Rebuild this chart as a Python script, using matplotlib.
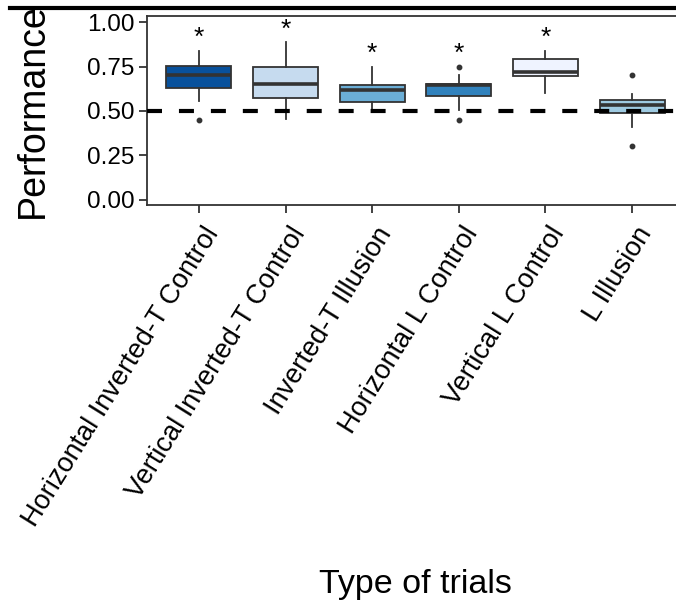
import matplotlib.pyplot as plt
import matplotlib.transforms as mtransforms
from matplotlib.lines import Line2D

plt.rcParams['font.family'] = ['Liberation Sans', 'DejaVu Sans']
plt.rcParams['lines.scale_dashes'] = False

# box statistics
trial_types = ['Horizontal Inverted-T Control', 'Vertical Inverted-T Control',
               'Inverted-T Illusion', 'Horizontal L Control',
               'Vertical L Control', 'L Illusion']
q1 = [0.630, 0.575, 0.550, 0.585, 0.697, 0.490]
median = [0.700, 0.650, 0.620, 0.645, 0.717, 0.535]
q3 = [0.755, 0.750, 0.646, 0.652, 0.790, 0.562]
whisk_low = [0.555, 0.455, 0.500, 0.505, 0.600, 0.410]
whisk_high = [0.840, 0.890, 0.750, 0.700, 0.840, 0.595]
outliers = [[0.45], [], [], [0.45, 0.75], [], [0.30, 0.70]]
significant = [True, True, True, True, True, False]
chance = 0.5

box_colors = ['#08519C', '#C6DBEF', '#6BAED6', '#3182BD', '#EFF3FF', '#9ECAE1']
edge = '#333333'

fig = plt.figure(figsize=(6.76, 6.09), dpi=100)
ax = fig.add_axes([147 / 676, 404 / 609, 537 / 676, 189 / 609])

stats = []
for i, name in enumerate(trial_types):
    stats.append(dict(label=name, q1=q1[i], med=median[i], q3=q3[i],
                      whislo=whisk_low[i], whishi=whisk_high[i],
                      fliers=outliers[i]))

positions = list(range(1, len(trial_types) + 1))
bp = ax.bxp(stats, positions=positions, widths=0.75, patch_artist=True,
            showcaps=False,
            boxprops=dict(edgecolor=edge, linewidth=1.3),
            medianprops=dict(color=edge, linewidth=2.6),
            whiskerprops=dict(color=edge, linewidth=1.3),
            flierprops=dict(marker='o', markersize=3.2, markerfacecolor=edge,
                            markeredgecolor=edge))
for patch, c in zip(bp['boxes'], box_colors):
    patch.set_facecolor(c)

ax.axhline(chance, color='black', linewidth=3, dashes=(10.8, 12.2), zorder=5)

# significance stars above the highest point of each box
for i, sig in enumerate(significant):
    if sig:
        top = max([whisk_high[i]] + outliers[i])
        ax.text(positions[i], top + 0.03, '*', ha='center', va='baseline',
                fontsize=19, color='black')

ax.set_xlim(0.4, 6.6)
ax.set_ylim(-0.03, 1.035)
ax.set_yticks([0, 0.25, 0.5, 0.75, 1.0])
ax.set_yticklabels(['0.00', '0.25', '0.50', '0.75', '1.00'])
ax.set_xticks(positions)

for side in ['left', 'bottom', 'top', 'right']:
    ax.spines[side].set_color(edge)
    ax.spines[side].set_linewidth(1.3)
ax.tick_params(axis='both', color=edge, width=1.3, length=6, labelcolor='black')
ax.tick_params(axis='y', labelsize=17.5, pad=3)
ax.tick_params(axis='x', labelsize=19.5, pad=3)

# labels set after tick_params, which would reset their transforms
ax.set_xticklabels(trial_types, rotation=58, ha='right', va='top',
                   rotation_mode='anchor')
shift = mtransforms.ScaledTranslation(3 / 100, -5 / 100, fig.dpi_scale_trans)
for lab in ax.get_xticklabels():
    lab.set_transform(lab.get_transform() + shift)

ax.set_ylabel('Performance', fontsize=27)
ax.yaxis.set_label_coords(-0.212, 0.5)
ax.yaxis.label.set_va('center')
ax.set_xlabel('Type of trials', fontsize=24.5)
ax.xaxis.set_label_coords(0.5, -2.01)
ax.xaxis.label.set_va('center')

fig.add_artist(Line2D([10 / 676, 1], [1 - 8 / 609, 1 - 8 / 609],
                      transform=fig.transFigure, color='black', linewidth=3))

fig.savefig('out.png', dpi=100)
